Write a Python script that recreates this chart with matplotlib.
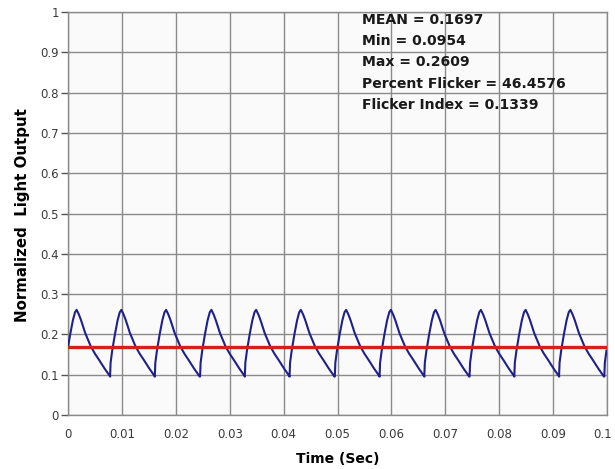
import numpy as np
import matplotlib
matplotlib.use('Agg')
import matplotlib.pyplot as plt
import matplotlib.transforms as mtransforms

# summary figures shown in the corner of the graph
mean_level = 0.1697
min_level = 0.0954
max_level = 0.2609
percent_flicker = 46.4576
flicker_index = 0.1339

# time (s) of each trough of the light waveform
trough_times = [-0.0005, 0.0078, 0.0161, 0.0245, 0.0328, 0.0411, 0.0495,
                0.0578, 0.0661, 0.0745, 0.0828, 0.0911, 0.0995]

# one cycle of the waveform: time after trough (s) and normalized output
cycle_dt = [0.0, 0.0001, 0.0004, 0.0009, 0.0014, 0.0018, 0.0021, 0.0025,
            0.0029, 0.0037, 0.0047, 0.0055, 0.0063, 0.0073, 0.00833]
cycle_val = [0.0954, 0.130, 0.160, 0.200, 0.235, 0.255, 0.2609, 0.250,
             0.236, 0.203, 0.171, 0.152, 0.136, 0.115, 0.0954]

t = []
v = []
for t0 in trough_times:
    for dt, val in zip(cycle_dt, cycle_val):
        t.append(t0 + dt)
        v.append(val)
t = np.array(t)
v = np.array(v)
keep = (t >= 0) & (t <= 0.1)
# start exactly at t=0 on the rising edge
v0 = np.interp(0.0, trough_times[0] + np.array(cycle_dt), cycle_val)
t = np.concatenate([[0.0], t[keep]])
v = np.concatenate([[v0], v[keep]])

fig = plt.figure(figsize=(6.15, 4.69), dpi=100)
fig.patch.set_facecolor('white')
ax = fig.add_axes([0.1106, 0.1151, 0.987 - 0.1106, 0.9744 - 0.1151])
ax.set_facecolor('#fafafa')

grid_col = '#8a8a8a'
ax.plot(t, v, color='#20208a', linewidth=1.5, zorder=3)
ax.plot([0, 0.1], [mean_level, mean_level], color='#d02020', linewidth=2.4, zorder=4)

ax.set_xlim(0, 0.1)
ax.set_ylim(0, 1)
ax.set_xticks(np.arange(0, 0.1001, 0.01))
ax.set_xticklabels(['0', '0.01', '0.02', '0.03', '0.04', '0.05', '0.06',
                    '0.07', '0.08', '0.09', '0.1'])
ax.set_yticks(np.arange(0, 1.001, 0.1))
ax.set_yticklabels(['0', '0.1', '0.2', '0.3', '0.4', '0.5', '0.6', '0.7',
                    '0.8', '0.9', '1'])
ax.grid(True, color=grid_col, linewidth=1.0)
ax.set_axisbelow(True)
for s in ax.spines.values():
    s.set_color(grid_col)
    s.set_linewidth(1.0)
ax.tick_params(axis='y', length=5, width=1, color='#555555', pad=1.5,
               labelsize=8.5, labelcolor='#3a3a3a')
ax.tick_params(axis='x', length=0, pad=9, labelsize=8.5, labelcolor='#3a3a3a')

# pull the last x label in so it stays inside the figure
last = ax.get_xticklabels()[-1]
last.set_transform(last.get_transform() +
                   mtransforms.ScaledTranslation(-4 / 100, 0, fig.dpi_scale_trans))

ax.set_xlabel('Time (Sec)', fontsize=10, fontweight='bold')
ax.set_ylabel('Normalized  Light Output', fontsize=10.8, fontweight='bold')
ax.xaxis.set_label_coords(0.5, -0.092)
ax.yaxis.set_label_coords(-0.0705, 0.495)

stats = ['MEAN = %.4f' % mean_level,
         'Min = %.4f' % min_level,
         'Max = %.4f' % max_level,
         'Percent Flicker = %.4f' % percent_flicker,
         'Flicker Index = %.4f' % flicker_index]
for i, line in enumerate(stats):
    fig.text(362 / 615, 1 - (20 + 21.2 * i) / 469, line, family='DejaVu Sans',
             fontsize=10.1, fontweight='bold', color='#1a1a1a', va='center', ha='left')

fig.savefig('out.png', dpi=100)
